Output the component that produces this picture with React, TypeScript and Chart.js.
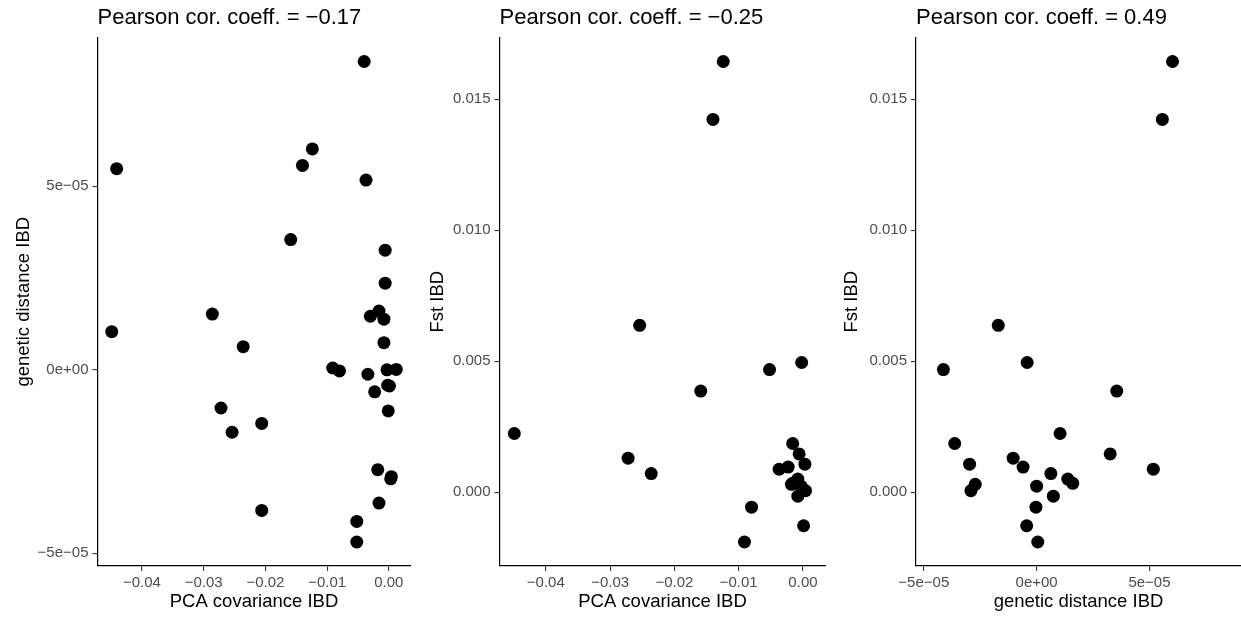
import React, { useEffect, useRef } from 'react';
import { Chart, registerables } from 'chart.js';

Chart.register(...registerables);

// ---- Data (one entry per population pair; Fst missing for some pairs) ----
const pcaCovariance: number[] = [
  -0.0124, -0.0140, -0.0254, -0.0002, -0.0052, -0.0159, -0.0449, -0.0272, -0.0236, -0.0016,
  -0.0006, 0.0003, -0.0023, -0.0037, -0.0008, -0.0016, -0.0018, 0.0004, -0.0003, -0.0008,
  -0.0080, 0.0001, -0.0091,
  -0.0040, -0.0441, -0.0006, -0.0286, -0.0030, -0.0034, 0.0012, -0.0001, -0.0206, -0.0206, -0.0052,
];
const geneticDistance: number[] = [
  6.02e-5, 5.57e-5, -1.70e-5, -0.42e-5, -4.13e-5, 3.55e-5, 1.04e-5, -1.04e-5, 0.63e-5, -3.63e-5,
  3.26e-5, -2.97e-5, -0.60e-5, 5.17e-5, 1.38e-5, 1.60e-5, -2.72e-5, -2.91e-5, 0.0, 0.74e-5,
  -0.03e-5, -0.44e-5, 0.05e-5,
  8.40e-5, 5.48e-5, 2.36e-5, 1.52e-5, 1.46e-5, -0.12e-5, 0.01e-5, -1.12e-5, -1.46e-5, -3.83e-5, -4.69e-5,
];
const fstValues: (number | null)[] = [
  0.01644, 0.01423, 0.00637, 0.00495, 0.00468, 0.00386, 0.00224, 0.00130, 0.00071, 0.00186,
  0.00146, 0.00107, 0.00096, 0.00088, 0.00050, 0.00034, 0.00030, 0.00006, 0.00023, -0.00015,
  -0.00057, -0.00128, -0.00190,
  null, null, null, null, null, null, null, null, null, null, null,
];

// ---- Tick values and labels ----
const pcaTicks = [-0.04, -0.03, -0.02, -0.01, 0];
const pcaTickLabels = ['\u22120.04', '\u22120.03', '\u22120.02', '\u22120.01', '0.00'];
const gdTicks = [-5e-5, 0, 5e-5];
const gdTickLabels = ['\u22125e\u221205', '0e+00', '5e\u221205'];
const fstTicks = [0, 0.005, 0.01, 0.015];
const fstTickLabels = ['0.000', '0.005', '0.010', '0.015'];

// ---- Titles ----
const panelTitles = [
  'Pearson cor. coeff. = \u22120.17',
  'Pearson cor. coeff. = \u22120.25',
  'Pearson cor. coeff. = 0.49',
];
const axisNames = {
  pca: 'PCA covariance IBD',
  gd: 'genetic distance IBD',
  fst: 'Fst IBD',
};

const FONT = '"Liberation Sans", Arial, Helvetica, sans-serif';
const H = 617;
const AREA_TOP = 37.5;
const AREA_BOTTOM = 566;

function expandRange(vals: (number | null)[]): [number, number] {
  const v = vals.filter((a): a is number => a !== null);
  const lo = Math.min(...v);
  const hi = Math.max(...v);
  const pad = (hi - lo) * 0.05;
  return [lo - pad, hi + pad];
}

type PanelCfg = {
  xs: (number | null)[];
  ys: (number | null)[];
  xTicks: number[];
  xLabels: string[];
  yTicks: number[];
  yLabels: string[];
  xTitle: string;
  yTitle: string;
  title: string;
  left: number;
  width: number;
  areaLeft: number;
  areaRight: number;
};

const panels: PanelCfg[] = [
  {
    xs: pcaCovariance, ys: geneticDistance,
    xTicks: pcaTicks, xLabels: pcaTickLabels, yTicks: gdTicks, yLabels: gdTickLabels,
    xTitle: axisNames.pca, yTitle: axisNames.gd, title: panelTitles[0],
    left: 0, width: 414, areaLeft: 97.5, areaRight: 410.5,
  },
  {
    xs: pcaCovariance, ys: fstValues,
    xTicks: pcaTicks, xLabels: pcaTickLabels, yTicks: fstTicks, yLabels: fstTickLabels,
    xTitle: axisNames.pca, yTitle: axisNames.fst, title: panelTitles[1],
    left: 414, width: 414, areaLeft: 85.5, areaRight: 411.5,
  },
  {
    xs: geneticDistance, ys: fstValues,
    xTicks: gdTicks, xLabels: gdTickLabels, yTicks: fstTicks, yLabels: fstTickLabels,
    xTitle: axisNames.gd, yTitle: axisNames.fst, title: panelTitles[2],
    left: 828, width: 413, areaLeft: 88, areaRight: 413,
  },
];

const titlePlugin = {
  id: 'panelTitle',
  afterDraw(chart: any, _args: any, opts: any) {
    const ctx = chart.ctx;
    ctx.save();
    ctx.font = `22px ${FONT}`;
    ctx.fillStyle = '#000';
    ctx.textAlign = 'left';
    ctx.textBaseline = 'alphabetic';
    ctx.fillText(opts.text, chart.chartArea.left, 24);
    ctx.restore();
  },
};

function Panel({ cfg }: { cfg: PanelCfg }) {
  const ref = useRef<HTMLCanvasElement | null>(null);
  useEffect(() => {
    if (!ref.current) return;
    const pts = cfg.xs
      .map((x, i) => ({ x, y: cfg.ys[i] }))
      .filter((p) => p.x !== null && p.y !== null) as { x: number; y: number }[];
    const [xmin, xmax] = expandRange(cfg.xs);
    const [ymin, ymax] = expandRange(cfg.ys);
    const tickFont = { family: FONT, size: 15 };
    const titleFont = { family: FONT, size: 18.5 };
    const chart = new Chart(ref.current, {
      type: 'scatter',
      data: {
        datasets: [
          {
            data: pts,
            pointRadius: 6.5,
            pointHoverRadius: 6.5,
            pointBackgroundColor: '#000',
            pointBorderWidth: 0,
            borderWidth: 0,
            clip: false,
          } as any,
        ],
      },
      options: {
        animation: false,
        responsive: false,
        events: [],
        layout: {
          autoPadding: false,
          padding: { top: AREA_TOP, right: cfg.width - cfg.areaRight, bottom: 0, left: 0 },
        },
        plugins: {
          legend: { display: false },
          tooltip: { enabled: false },
          title: { display: false },
          panelTitle: { text: cfg.title },
        } as any,
        scales: {
          x: {
            type: 'linear',
            min: xmin,
            max: xmax,
            afterBuildTicks: (s: any) => {
              s.ticks = cfg.xTicks.map((v) => ({ value: v }));
            },
            afterFit: (s: any) => {
              s.height = H - AREA_BOTTOM;
            },
            ticks: {
              callback: (_v: any, i: number) => cfg.xLabels[i],
              font: tickFont,
              color: '#4D4D4D',
              padding: 3,
              maxRotation: 0,
              autoSkip: false,
            },
            grid: { drawOnChartArea: false, drawTicks: true, tickLength: 5, color: '#333333', lineWidth: 1.1 },
            border: { display: true, color: '#000', width: 1.2 },
            title: {
              display: true,
              text: cfg.xTitle,
              font: titleFont,
              color: '#000',
              padding: { top: 0, bottom: 3.5 },
            },
          },
          y: {
            type: 'linear',
            min: ymin,
            max: ymax,
            afterBuildTicks: (s: any) => {
              s.ticks = cfg.yTicks.map((v) => ({ value: v }));
            },
            afterFit: (s: any) => {
              s.width = cfg.areaLeft;
            },
            ticks: {
              callback: (_v: any, i: number) => cfg.yLabels[i],
              font: tickFont,
              color: '#4D4D4D',
              padding: 4,
              autoSkip: false,
            },
            grid: { drawOnChartArea: false, drawTicks: true, tickLength: 5, color: '#333333', lineWidth: 1.1 },
            border: { display: true, color: '#000', width: 1.2 },
            title: {
              display: true,
              text: cfg.yTitle,
              font: titleFont,
              color: '#000',
              padding: { top: 12.5, bottom: 0 },
            },
          },
        },
      } as any,
      plugins: [titlePlugin],
    });
    return () => chart.destroy();
  }, [cfg]);
  return (
    <canvas
      ref={ref}
      width={cfg.width}
      height={H}
      style={{ position: 'absolute', left: cfg.left, top: 0, width: cfg.width, height: H }}
    />
  );
}

export default function App() {
  return (
    <div style={{ position: 'fixed', left: 0, top: 0, width: 1241, height: H, background: '#fff', overflow: 'hidden' }}>
      {panels.map((p, i) => (
        <Panel key={i} cfg={p} />
      ))}
    </div>
  );
}
